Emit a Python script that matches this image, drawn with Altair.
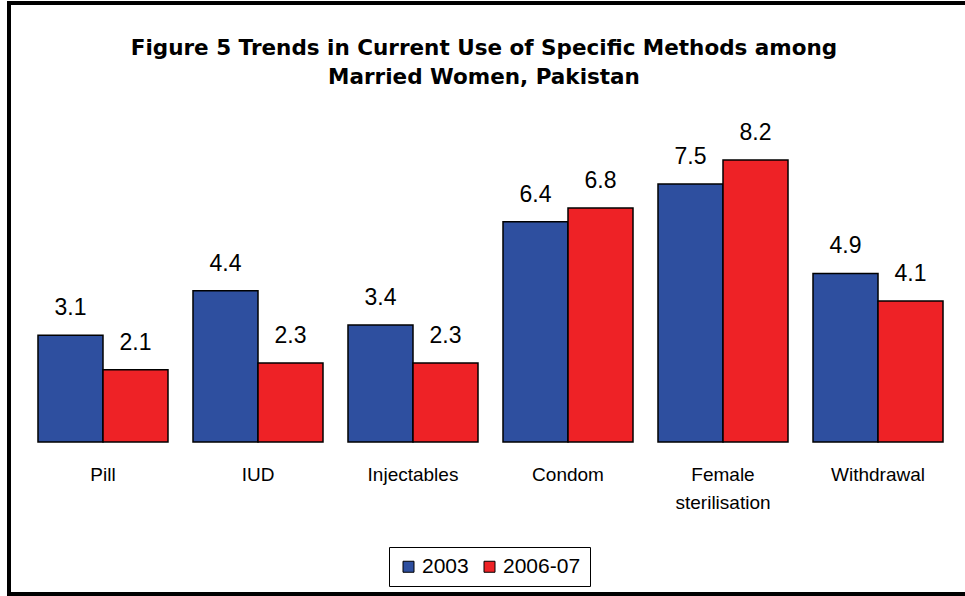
import altair as alt
import pandas as pd

# Contraceptive method use among married women (%), two survey rounds
methods = ["Pill", "IUD", "Injectables", "Condom", "Female\nsterilisation", "Withdrawal"]
years = ["2003", "2006-07"]
use_2003 = [3.1, 4.4, 3.4, 6.4, 7.5, 4.9]
use_2006 = [2.1, 2.3, 2.3, 6.8, 8.2, 4.1]
year_colors = ["#2E4F9F", "#EE2226"]

rows = []
for m, a, b in zip(methods, use_2003, use_2006):
    rows.append({"method": m, "year": years[0], "pct": a})
    rows.append({"method": m, "year": years[1], "pct": b})
df = pd.DataFrame(rows)

W, H = 930, 344
PAD = {"left": 25.5, "right": 9.5, "top": 98, "bottom": 154}

x_enc = alt.X(
    "method:N",
    sort=methods,
    scale=alt.Scale(paddingInner=0.1613, paddingOuter=0.0806),
    axis=alt.Axis(
        title=None,
        labelAngle=0,
        domain=False,
        ticks=False,
        labelFont="Liberation Sans",
        labelFontSize=19,
        labelColor="black",
        labelPadding=23,
        labelLineHeight=28,
        labelExpr="split(datum.label, '\\n')",
    ),
)
xoff_enc = alt.XOffset("year:N", sort=years, scale=alt.Scale(paddingInner=0, paddingOuter=0))
y_enc = alt.Y("pct:Q", scale=alt.Scale(domain=[0, 10]), axis=None)

bars = alt.Chart(df).mark_bar(stroke="black", strokeWidth=1.5).encode(
    x=x_enc,
    xOffset=xoff_enc,
    y=y_enc,
    color=alt.Color(
        "year:N",
        sort=years,
        scale=alt.Scale(domain=years, range=year_colors),
        legend=alt.Legend(
            title=None,
            orient="none",
            legendX=363.5,
            legendY=449,
            direction="horizontal",
            symbolType="square",
            symbolSize=121,
            symbolStrokeColor="black",
            symbolStrokeWidth=1,
            labelFont="Liberation Sans",
            labelFontSize=21,
            labelColor="black",
            strokeColor="black",
            fillColor="white",
            padding=9,
            columnPadding=10,
            labelOffset=3,
        ),
    ),
)

labels = alt.Chart(df).mark_text(
    dy=-20, baseline="alphabetic", align="center",
    font="Liberation Sans", fontSize=23, color="black",
).encode(
    x=x_enc,
    xOffset=xoff_enc,
    y=y_enc,
    text=alt.Text("pct:Q", format=".1f"),
)

# outer frame around the figure
frame = alt.Chart(pd.DataFrame({"k": [0]})).mark_rect(
    fill="transparent", stroke="black", strokeWidth=4
).encode(
    x=alt.value(-16.5), x2=alt.value(960),
    y=alt.value(-95), y2=alt.value(496),
)

chart = alt.layer(bars, labels, frame).properties(
    width=W,
    height=H,
    padding=PAD,
    autosize=alt.AutoSizeParams(type="none"),
    background="white",
    title=alt.Title(
        ["Figure 5 Trends in Current Use of Specific Methods among", "Married Women, Pakistan"],
        font="DejaVu Sans",
        fontSize=21.5,
        fontWeight="bold",
        color="black",
        lineHeight=29,
        anchor="middle",
        baseline="top",
        offset=9,
        dx=-6.5,
        dy=96,
    ),
).configure_view(strokeWidth=0)

chart.save("out.html", embed_options={"renderer": "svg", "actions": False})
